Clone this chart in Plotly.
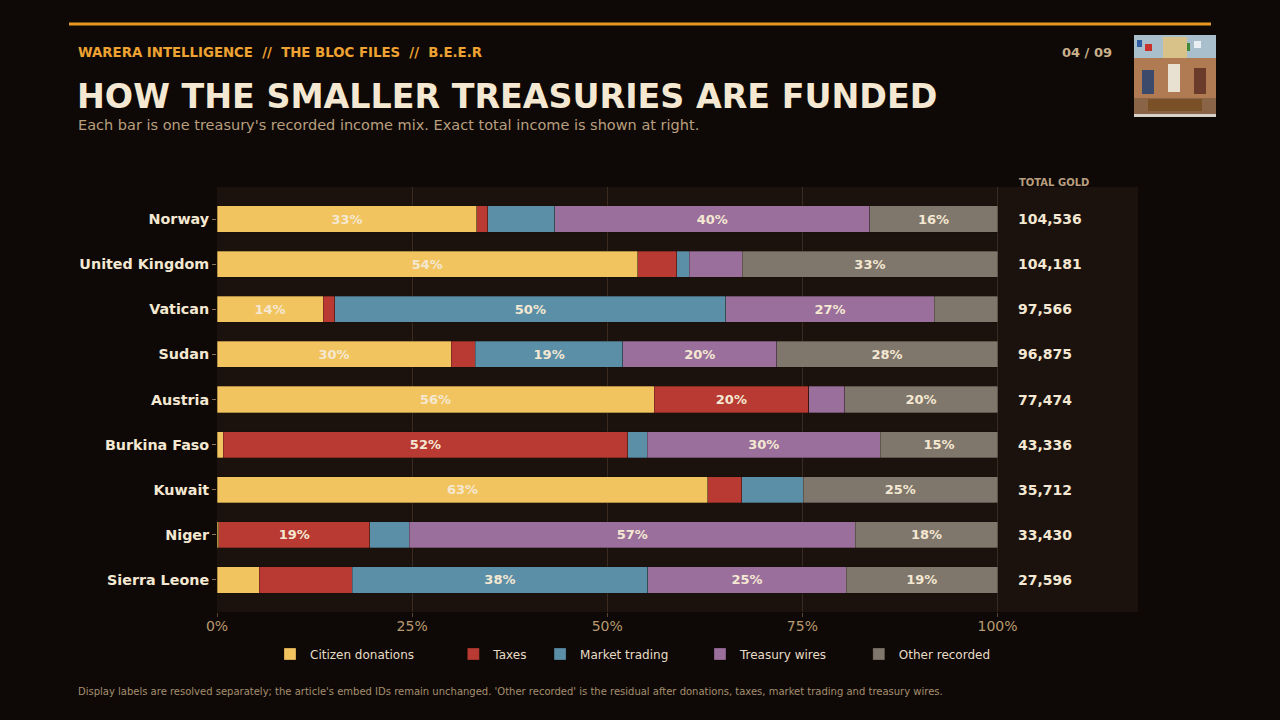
import plotly.graph_objects as go

# --- données (parts en % du revenu, total en or) ---
pays = ["Norway", "United Kingdom", "Vatican", "Sudan", "Austria",
        "Burkina Faso", "Kuwait", "Niger", "Sierra Leone"]
dons = [33.3, 53.9, 13.6, 30.0, 56.0, 0.8, 62.9, 0.2, 5.4]
taxes = [1.4, 5.0, 1.5, 3.1, 19.8, 51.8, 4.3, 19.4, 11.9]
marche = [8.6, 1.6, 50.1, 18.9, 0.0, 2.5, 7.9, 5.0, 37.9]
virements = [40.3, 6.8, 26.7, 19.7, 4.6, 29.9, 0.0, 57.2, 25.4]
autres = [16.4, 32.7, 8.1, 28.3, 19.6, 15.0, 24.9, 18.2, 19.4]
total_or = [104536, 104181, 97566, 96875, 77474, 43336, 35712, 33430, 27596]
x_ticks = [0, 25, 50, 75, 100]
x_tick_labels = ["0%", "25%", "50%", "75%", "100%"]

# nom, valeurs, couleur, espaces ajoutés dans la légende (écartement des entrées)
series = [
    ("Citizen donations", dons, "#f2c45f", 9),
    ("Taxes", taxes, "#b83a32", 2),
    ("Market trading", marche, "#5b8fa8", 7),
    ("Treasury wires", virements, "#9a6f9c", 7),
    ("Other recorded", autres, "#7f766c", 0),
]

FOND = "#0e0906"
FOND_GRAPHE = "#1b120e"
CREME = "#f4e8d2"
OCRE = "#b99f7f"
ORANGE = "#eda232"
POLICE = "DejaVu Sans"
NB = "\u00a0"

# zone de tracé en pixels
G, D, H, B = 217, 1138, 187, 612


def px(x):
    return (x - G) / (D - G)


def py(y):
    return (B - y) / (B - H)


fig = go.Figure()
for nom, vals, couleur, pad in series:
    fig.add_trace(go.Bar(
        y=pays, x=vals, name=nom + NB * pad, orientation="h",
        marker=dict(color=couleur, line=dict(color="rgba(20,12,8,0.5)", width=0.6)),
        text=[f"{v:.0f}%" if v >= 12 else "" for v in vals],
        textposition="inside", insidetextanchor="middle", textangle=0,
        textfont=dict(family=POLICE, size=13, color=CREME, weight="bold"),
        hoverinfo="skip",
    ))

annots = []
# totaux à droite
for p, t in zip(pays, total_or):
    annots.append(dict(x=102.4, y=p, xref="x", yref="y", text=f"{t:,}",
                       xanchor="left", yanchor="middle", showarrow=False,
                       font=dict(family=POLICE, size=14, color=CREME, weight="bold")))
annots.append(dict(x=px(1017), y=py(182), xref="paper", yref="paper",
                   text="TOTAL GOLD", xanchor="left", yanchor="middle", showarrow=False,
                   font=dict(family=POLICE, size=10, color=OCRE, weight="bold")))

# en-tête et pied
entete = [
    dict(x=px(76), y=py(52),
         text=f"WARERA INTELLIGENCE{NB}{NB}//{NB}{NB}THE BLOC FILES{NB}{NB}//{NB}{NB}B.E.E.R",
         font=dict(family=POLICE, size=13.3, color=ORANGE, weight="bold"), xanchor="left"),
    dict(x=px(1114), y=py(52), text="04 / 09",
         font=dict(family=POLICE, size=13, color="#c9b08a", weight="bold"), xanchor="right"),
    dict(x=px(75), y=py(96), text="HOW THE SMALLER TREASURIES ARE FUNDED",
         font=dict(family=POLICE, size=33.3, color=CREME, weight="bold"), xanchor="left"),
    dict(x=px(76), y=py(125), text="Each bar is one treasury's recorded income mix. Exact total income is shown at right.",
         font=dict(family=POLICE, size=14.5, color=OCRE), xanchor="left"),
    dict(x=px(76), y=py(691),
         text="Display labels are resolved separately; the article's embed IDs remain unchanged. "
              "'Other recorded' is the residual after donations, taxes, market trading and treasury wires.",
         font=dict(family=POLICE, size=10, color="#a68f6e"), xanchor="left"),
]
for a in entete:
    a.update(xref="paper", yref="paper", yanchor="middle", showarrow=False)
annots += entete


def rect(x0, y0, x1, y1, couleur):
    return dict(type="rect", xref="paper", yref="paper", x0=px(x0), x1=px(x1),
                y0=py(y1), y1=py(y0), fillcolor=couleur, line=dict(width=0))


# décor : filet orange et vignette (image non reproductible -> aplats)
formes = [
    dict(type="line", xref="paper", yref="paper", x0=px(69), x1=px(1211), y0=py(24), y1=py(24),
         line=dict(color="#e8981f", width=3)),
    rect(1134, 35, 1216, 117, "#8a6446"),
    rect(1134, 35, 1216, 58, "#a9bfcb"),
    rect(1134, 58, 1216, 98, "#b07a52"),
    rect(1137, 40, 1142, 47, "#2f5fa0"),
    rect(1145, 44, 1152, 51, "#c8322a"),
    rect(1175, 40, 1180, 50, "#efe6c0"),
    rect(1183, 43, 1190, 51, "#3f8a3a"),
    rect(1194, 41, 1201, 48, "#e8eef2"),
    rect(1163, 37, 1187, 58, "#d8c28a"),
    rect(1168, 64, 1180, 92, "#e8e0d0"),
    rect(1142, 70, 1154, 94, "#3b4a6a"),
    rect(1194, 68, 1206, 94, "#6a3a2a"),
    rect(1148, 99, 1202, 111, "#7a5026"),
    rect(1134, 114, 1216, 117, "#d7d2c8"),
]

fig.update_layout(
    width=1280, height=720,
    barmode="stack", bargap=0.42,
    paper_bgcolor=FOND, plot_bgcolor=FOND_GRAPHE,
    margin=dict(l=G, r=1280 - D, t=H, b=720 - B, autoexpand=False),
    font=dict(family=POLICE, color=CREME),
    showlegend=True,
    legend=dict(orientation="h", traceorder="normal", xref="container", yref="container",
                x=0.5 - 7 / 1280, xanchor="center", y=1 - 654 / 720, yanchor="middle",
                font=dict(family=POLICE, size=12, color="#e8dcc5"),
                bgcolor="rgba(0,0,0,0)", itemclick=False),
    xaxis=dict(range=[0, 118], tickvals=x_ticks, ticktext=x_tick_labels, automargin=False,
               showgrid=True, gridcolor="#3a2a1f", gridwidth=1, zeroline=False,
               ticks="outside", ticklen=4, tickcolor="#5a4530", ticklabelstandoff=-3,
               tickfont=dict(family=POLICE, size=14, color="#b99a6e"), fixedrange=True),
    yaxis=dict(categoryorder="array", categoryarray=pays, range=[8.71, -0.71], automargin=False,
               showgrid=False, zeroline=False,
               ticks="outside", ticklen=4, tickcolor="#8a7558",
               tickfont=dict(family=POLICE, size=14.3, color=CREME, weight="bold"), fixedrange=True),
    annotations=annots,
    shapes=formes,
)

fig.write_html("out.html", config={"displayModeBar": False},
               post_script="document.body.style.margin='0';"
                           "document.body.style.background='#0e0906';")
